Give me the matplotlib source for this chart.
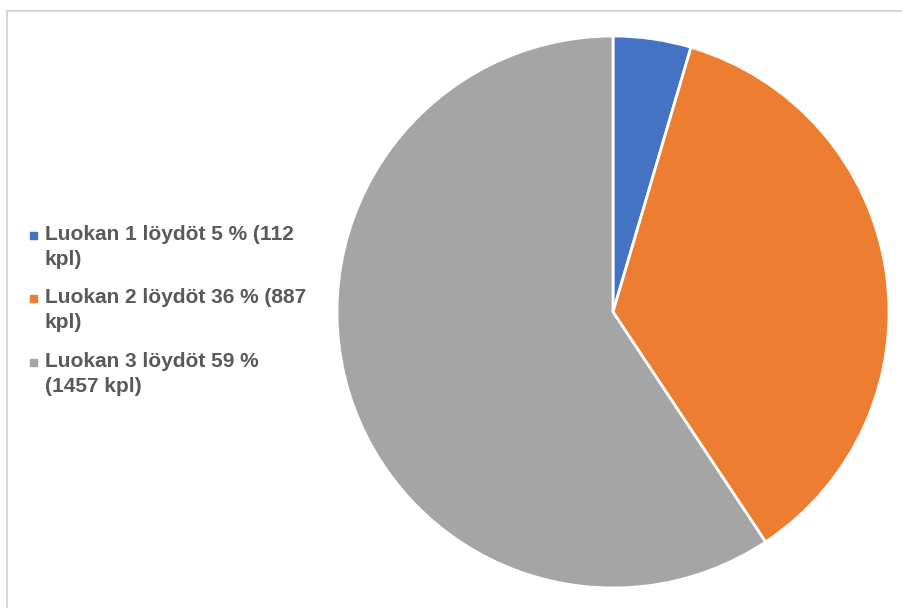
import matplotlib.pyplot as plt
from matplotlib.patches import Rectangle

labels = ['Luokan 1 löydöt 5 % (112\nkpl)',
          'Luokan 2 löydöt 36 % (887\nkpl)',
          'Luokan 3 löydöt 59 %\n(1457 kpl)']
counts = [112, 887, 1457]
colors = ['#4472C4', '#ED7D31', '#A5A5A5']

W, H = 902, 608
fig = plt.figure(figsize=(W / 100, H / 100), dpi=100)

# light frame around the chart area (top and left edges visible)
fig.patches.append(Rectangle((6.5 / W, -0.1), 1.2, (H - 11) / H + 0.1,
                             transform=fig.transFigure, fill=False,
                             edgecolor='#d9d9d9', linewidth=1.5))

# pie: center (613, 312), radius ~276 px
r = 276
cx, cy = 613, H - 312
ax = fig.add_axes([(cx - r) / W, (cy - r) / H, 2 * r / W, 2 * r / H])
ax.pie(counts, colors=colors, startangle=90, counterclock=False,
       wedgeprops=dict(edgecolor='white', linewidth=2))
ax.set_xlim(-1, 1)
ax.set_ylim(-1, 1)
ax.set_aspect('auto')

# legend drawn by hand
tops = [228, 291, 355]
for lab, col, t in zip(labels, colors, tops):
    fig.patches.append(Rectangle((30 / W, 1 - (t + 11) / H), 7 / W, 7 / H,
                                 transform=fig.transFigure, color=col))
    fig.text(45 / W, 1 - (t - 3) / H, lab, ha='left', va='top',
             fontsize=15, fontweight='bold', color='#595959',
             family='Liberation Sans', linespacing=1.4)

fig.savefig('out.png', dpi=100)
